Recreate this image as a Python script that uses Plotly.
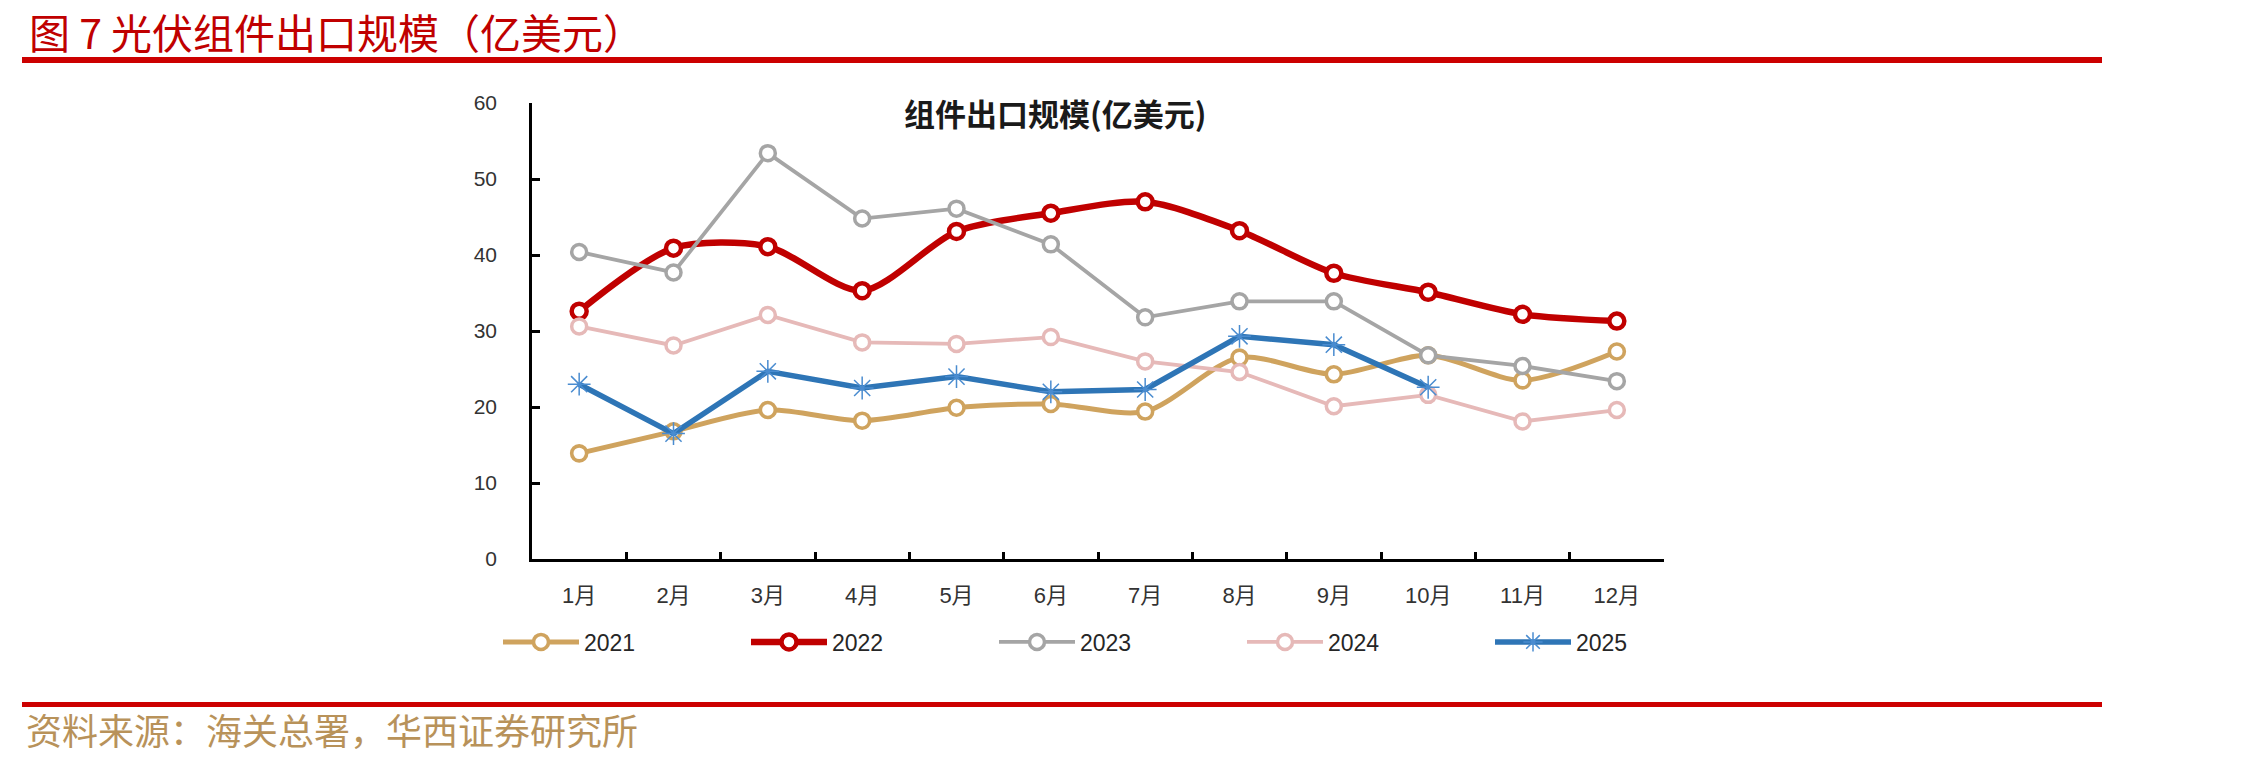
import plotly.graph_objects as go

# ---------------- data ----------------
months = ["1月", "2月", "3月", "4月", "5月", "6月", "7月", "8月", "9月", "10月", "11月", "12月"]
y2021 = [13.9, 16.8, 19.6, 18.2, 19.9, 20.4, 19.4, 26.5, 24.3, 26.8, 23.5, 27.3]
y2022 = [32.6, 40.9, 41.1, 35.3, 43.1, 45.5, 47.0, 43.2, 37.6, 35.1, 32.2, 31.3]
y2023 = [40.4, 37.7, 53.4, 44.8, 46.1, 41.4, 31.8, 33.9, 33.9, 26.8, 25.4, 23.4]
y2024 = [30.6, 28.1, 32.1, 28.5, 28.3, 29.2, 26.0, 24.6, 20.1, 21.6, 18.1, 19.6]
y2025 = [23.0, 16.5, 24.7, 22.5, 24.0, 22.0, 22.3, 29.3, 28.2, 22.6]
y_ticks = [0, 10, 20, 30, 40, 50, 60]

chart_title = "组件出口规模(亿美元)"
header = "图 7 光伏组件出口规模（亿美元）"
source = "资料来源：海关总署，华西证券研究所"

# ---------------- geometry ----------------
W, H = 2259, 763
PL, PR, PT, PB = 532, 1664, 103, 559  # plot area in pixels


def px2x(px):
    return (px - PL) / (PR - PL)


def py2y(py):
    return (PB - py) / (PB - PT)


FONT = "Liberation Sans, Arial, Noto Sans CJK SC, sans-serif"
CJK = "Noto Sans CJK SC, sans-serif"

fig = go.Figure()

series = [
    ("2021", y2021, "#CFA35E", 5, "circle", 15, 3.6, "#CFA35E", "spline"),
    ("2022", y2022, "#C00000", 6.5, "circle", 15, 4.5, "#C00000", "spline"),
    ("2023", y2023, "#A5A5A5", 3.8, "circle", 15, 3.5, "#A5A5A5", "linear"),
    ("2024", y2024, "#E6B9B8", 3.8, "circle", 15, 3.5, "#E6B9B8", "linear"),
    ("2025", y2025, "#2E75B6", 5.5, "asterisk-open", 19, 1.5, "#4A8CD0", "linear"),
]

for name, ys, col, lw, sym, msize, mlw, mcol, shape in series:
    fig.add_trace(go.Scatter(
        x=months[:len(ys)], y=ys, name=name, mode="lines+markers",
        line=dict(color=col, width=lw, shape=shape, smoothing=0.8),
        marker=dict(symbol=sym, size=msize, color="white" if sym == "circle" else mcol,
                    line=dict(color=mcol, width=mlw)),
    ))

fig.update_layout(
    width=W, height=H,
    margin=dict(l=PL, r=W - PR, t=PT, b=H - PB, pad=0),
    paper_bgcolor="white", plot_bgcolor="white",
    showlegend=True,
    legend=dict(
        orientation="h", x=px2x(498), xanchor="left", y=py2y(642), yanchor="middle",
        entrywidth=157, entrywidthmode="pixels", itemwidth=76,
        font=dict(family=FONT, size=23, color="#262626"),
        bgcolor="rgba(0,0,0,0)", traceorder="normal",
    ),
    xaxis=dict(
        type="category", categoryorder="array", categoryarray=months,
        range=[-0.5, 11.5], showgrid=False, zeroline=False,
        showline=True, linecolor="black", linewidth=2.5,
        ticks="inside", tickson="boundaries", ticklen=7, tickwidth=2.5, tickcolor="black",
        tickfont=dict(family=FONT, size=22, color="#333333"),
        ticklabelstandoff=15,
    ),
    yaxis=dict(
        range=[0, 60], tickvals=y_ticks, showgrid=False, zeroline=False,
        showline=True, linecolor="black", linewidth=2.5,
        ticks="inside", ticklen=8, tickwidth=2.5, tickcolor="black",
        tickfont=dict(family=FONT, size=21, color="#333333"),
        ticklabelstandoff=28,
    ),
)

# chart inner title
fig.add_annotation(
    xref="paper", yref="paper", x=px2x(1055), y=py2y(113),
    text="<b>" + chart_title + "</b>", showarrow=False,
    font=dict(family=CJK, size=31, color="#1a1a1a"),
    xanchor="center", yanchor="middle",
)

# header text and rules
fig.add_annotation(
    xref="paper", yref="paper", x=px2x(27), y=py2y(31),
    text=header, showarrow=False,
    font=dict(family=CJK, size=41, color="#C00000"),
    xanchor="left", yanchor="middle",
)
fig.add_shape(type="line", xref="paper", yref="paper",
              x0=px2x(22), x1=px2x(2102), y0=py2y(60), y1=py2y(60),
              line=dict(color="#CC0000", width=6))
fig.add_shape(type="line", xref="paper", yref="paper",
              x0=px2x(22), x1=px2x(2102), y0=py2y(704.5), y1=py2y(704.5),
              line=dict(color="#CC0000", width=5))
fig.add_annotation(
    xref="paper", yref="paper", x=px2x(24), y=py2y(729),
    text=source, showarrow=False,
    font=dict(family=CJK, size=36, color="#B8925A"),
    xanchor="left", yanchor="middle",
)

fig.write_html("out.html")
